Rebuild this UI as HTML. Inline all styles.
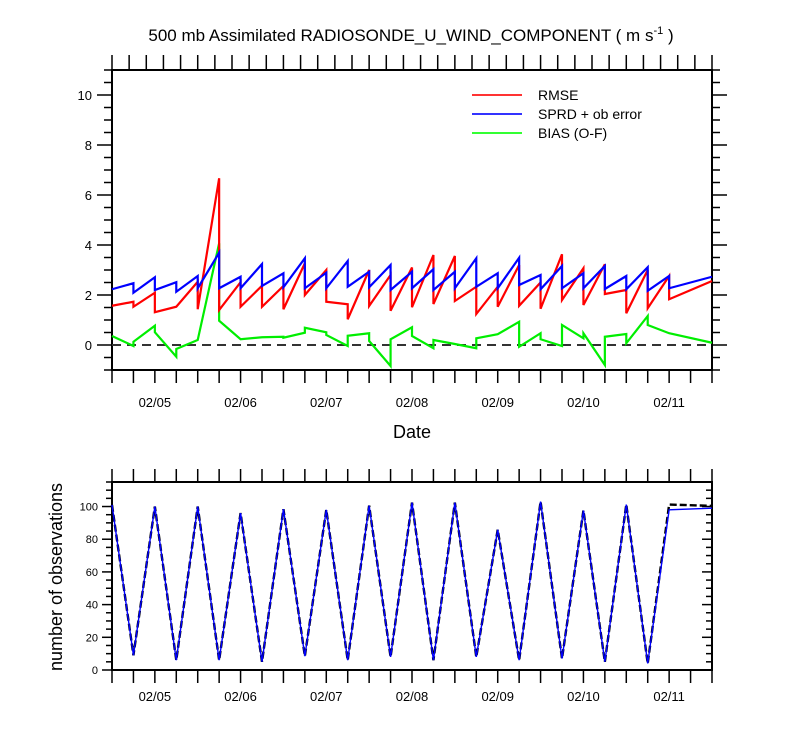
<!DOCTYPE html>
<html><head><meta charset="utf-8"><style>
body{margin:0;background:#fff}
svg{display:block;font-family:"Liberation Sans",sans-serif}
</style></head><body>
<svg id="c" width="800" height="750" viewBox="0 0 800 750" xmlns="http://www.w3.org/2000/svg"></svg>
<script>
// ---- data ----
const dateLabels=["02/05","02/06","02/07","02/08","02/09","02/10","02/11"];
// segment start/end times, hours from 02/04 12Z
const segStart=[0,6,12,18,24,30,36,42,48,54,60,66,72,78,84,90,96,102,108,114,120,126,132,138,144,150,156];
const segEnd=[6,12,18,24,30,36,42,48,54,60,66,72,78,84,90,96,102,108,114,120,126,132,138,144,150,156,168];
const rmseA=[1.57,1.53,1.31,1.53,1.43,1.40,1.53,1.53,1.43,2.0,1.73,1.03,1.56,1.37,1.51,1.64,1.76,1.24,1.53,1.57,1.45,1.8,1.6,2.04,1.27,1.47,1.83];
const rmseB=[1.73,2.09,1.53,2.53,6.67,2.51,2.37,2.36,3.27,3.0,1.63,3.0,2.8,3.1,3.6,3.56,2.33,2.33,3.2,2.5,3.63,3.07,3.23,2.2,3.0,2.76,2.56];
const sprdA=[2.23,2.09,2.2,2.13,2.27,2.27,2.27,2.36,2.31,2.27,2.27,2.33,2.31,2.2,2.27,2.2,2.27,2.33,2.27,2.4,2.23,2.27,2.27,2.24,2.23,2.17,2.27];
const sprdB=[2.47,2.71,2.51,2.76,3.69,2.73,3.24,2.87,3.47,2.89,3.36,2.93,3.2,2.93,3.03,2.93,3.47,2.87,3.49,2.8,3.16,2.87,3.16,2.76,3.11,2.76,2.73];
const biasA=[0.36,0.13,0.51,-0.16,0.2,0.97,0.23,0.31,0.29,0.69,0.4,0.37,0.16,0.23,0.36,0.2,0.04,0.27,0.43,-0.07,0.23,0.8,0.47,0.33,0.07,0.8,0.47];
const biasB=[-0.04,0.77,-0.47,0.2,4.07,0.23,0.31,0.33,0.49,0.51,-0.04,0.47,-0.84,0.71,-0.13,0.04,-0.13,0.43,0.93,0.47,-0.04,0.27,-0.8,0.44,1.16,0.47,0.09];
const obsTimes=[0,6,12,18,24,30,36,42,48,54,60,66,72,78,84,90,96,102,108,114,120,126,132,138,144,150,156,168];
const obsUsed=[101,9,100,6,100,6,96,5,98.4,8.5,98,6,100.6,8,102.4,6,102.4,8,85.8,6,103,7,97.6,5,101.2,4,98,99];
const obsTotal=[101,9,100,6,100,6,96,5,98.4,8.5,98,6,100.6,8,102.4,6,102.4,8,85.8,6,103,7,97.6,5,101.2,4,101.2,100.4];
const yTicksTop=[0,2,4,6,8,10];
const yTicksBot=[0,20,40,60,80,100];

// ---- axes ----
const X0=112,X1=712,TMAX=168;
const xs=t=>X0+(t/TMAX)*(X1-X0);
const T0=70,T1=370,yT=v=>T1-(v+1)/12*(T1-T0);
const B0=482,B1=670,yB=v=>B1-v/115*(B1-B0);
const svg=document.getElementById('c');
const NS='http://www.w3.org/2000/svg';
function mk(tag,attrs,name,txt){const e=document.createElementNS(NS,tag);for(const k in attrs)e.setAttribute(k,attrs[k]);


if(txt!==undefined)e.textContent=txt;svg.appendChild(e);return e;}
function ln(x1,y1,x2,y2,name,w,col){return mk('line',{x1,y1,x2,y2,stroke:col||'#000','stroke-width':w||1.5},name);}

// title
const ti=mk('text',{x:411,y:41,'font-size':17,'text-anchor':'middle'},'chart-title');
ti.innerHTML='500 mb Assimilated RADIOSONDE_U_WIND_COMPONENT ( m s<tspan dy="-7" font-size="11">-1</tspan><tspan dy="7"> )</tspan>';

// top frame
mk('rect',{x:X0,y:T0,width:X1-X0,height:T1-T0,fill:'none',stroke:'#000','stroke-width':2},'top-plot-frame');
for(let i=0;i<=35;i++){const x=X0+i*(X1-X0)/35;ln(x,T0,x,T0-15,'top-axis-tick');}
for(let t=0;t<=TMAX;t+=6){ln(xs(t),T1,xs(t),T1+13,'x-axis-tick');}
for(let v=-1;v<=11;v+=0.5){const maj=Math.abs(v%2)<1e-9;const L=maj?15:8;
 ln(X0,yT(v),X0-L,yT(v),'y-axis-tick');ln(X1,yT(v),X1+L,yT(v),'y-axis-tick-right');}
yTicksTop.forEach(v=>mk('text',{x:X0-20,y:yT(v)+5,'font-size':13,'text-anchor':'end'},'y-tick-label',String(v)));
dateLabels.forEach((d,i)=>{mk('text',{x:xs(12+24*i),y:407,'font-size':13,'text-anchor':'middle'},'x-tick-label',d);});
mk('text',{x:412,y:438,'font-size':18,'text-anchor':'middle'},'x-axis-title','Date');
ln(X0,yT(0),X1,yT(0),'zero-line',2,'#333').setAttribute('stroke-dasharray','9 6');

function saw(A,B,col,name){let d='';for(let i=0;i<A.length;i++){d+=(i?'L':'M')+xs(segStart[i])+' '+yT(A[i])+'L'+xs(segEnd[i])+' '+yT(B[i]);}
 mk('path',{d,fill:'none',stroke:col,'stroke-width':2.2,'stroke-linejoin':'miter'},name);}
saw(biasA,biasB,'#00ee00','bias-line');
saw(rmseA,rmseB,'#ff0000','rmse-line');
saw(sprdA,sprdB,'#0000ff','sprd-line');

// legend
[['RMSE','#ff3333'],['SPRD + ob error','#3333ff'],['BIAS (O-F)','#33ff33']].forEach((l,i)=>{
 const y=95+i*19;ln(472,y,522,y,'legend-swatch',2,l[1]);
 mk('text',{x:538,y:y+5,'font-size':14},'legend-entry',l[0]);});

// bottom
mk('rect',{x:X0,y:B0,width:X1-X0,height:B1-B0,fill:'none',stroke:'#000','stroke-width':2},'bottom-plot-frame');
for(let t=0;t<=TMAX;t+=6){ln(xs(t),B0,xs(t),B0-13,'bottom-top-tick');ln(xs(t),B1,xs(t),B1+13,'bottom-x-tick');}
for(let v=0;v<=115;v+=5){const maj=v%20===0;const L=maj?10:6;
 ln(X0,yB(v),X0-L,yB(v),'bottom-y-tick');ln(X1,yB(v),X1-L,yB(v),'bottom-y-tick-right');}
yTicksBot.forEach(v=>mk('text',{x:X0-14,y:yB(v)+4,'font-size':11,'text-anchor':'end'},'bottom-y-tick-label',String(v)));
dateLabels.forEach((d,i)=>{mk('text',{x:xs(12+24*i),y:701,'font-size':13,'text-anchor':'middle'},'bottom-x-tick-label',d);});
mk('text',{x:0,y:0,'font-size':18,'text-anchor':'middle',transform:'translate(62,577) rotate(-90)'},'bottom-y-axis-title','number of observations');
function pl(arr,col,w,name,dash){const d=arr.map((v,i)=>(i?'L':'M')+xs(obsTimes[i])+' '+yB(v)).join('');
 const p=mk('path',{d,fill:'none',stroke:col,'stroke-width':w},name);if(dash)p.setAttribute('stroke-dasharray',dash);}
pl(obsTotal,'#000',2.4,'obs-total-line','7 3');
pl(obsUsed,'#0000ff',1.4,'obs-used-line');
</script>
</body></html>
